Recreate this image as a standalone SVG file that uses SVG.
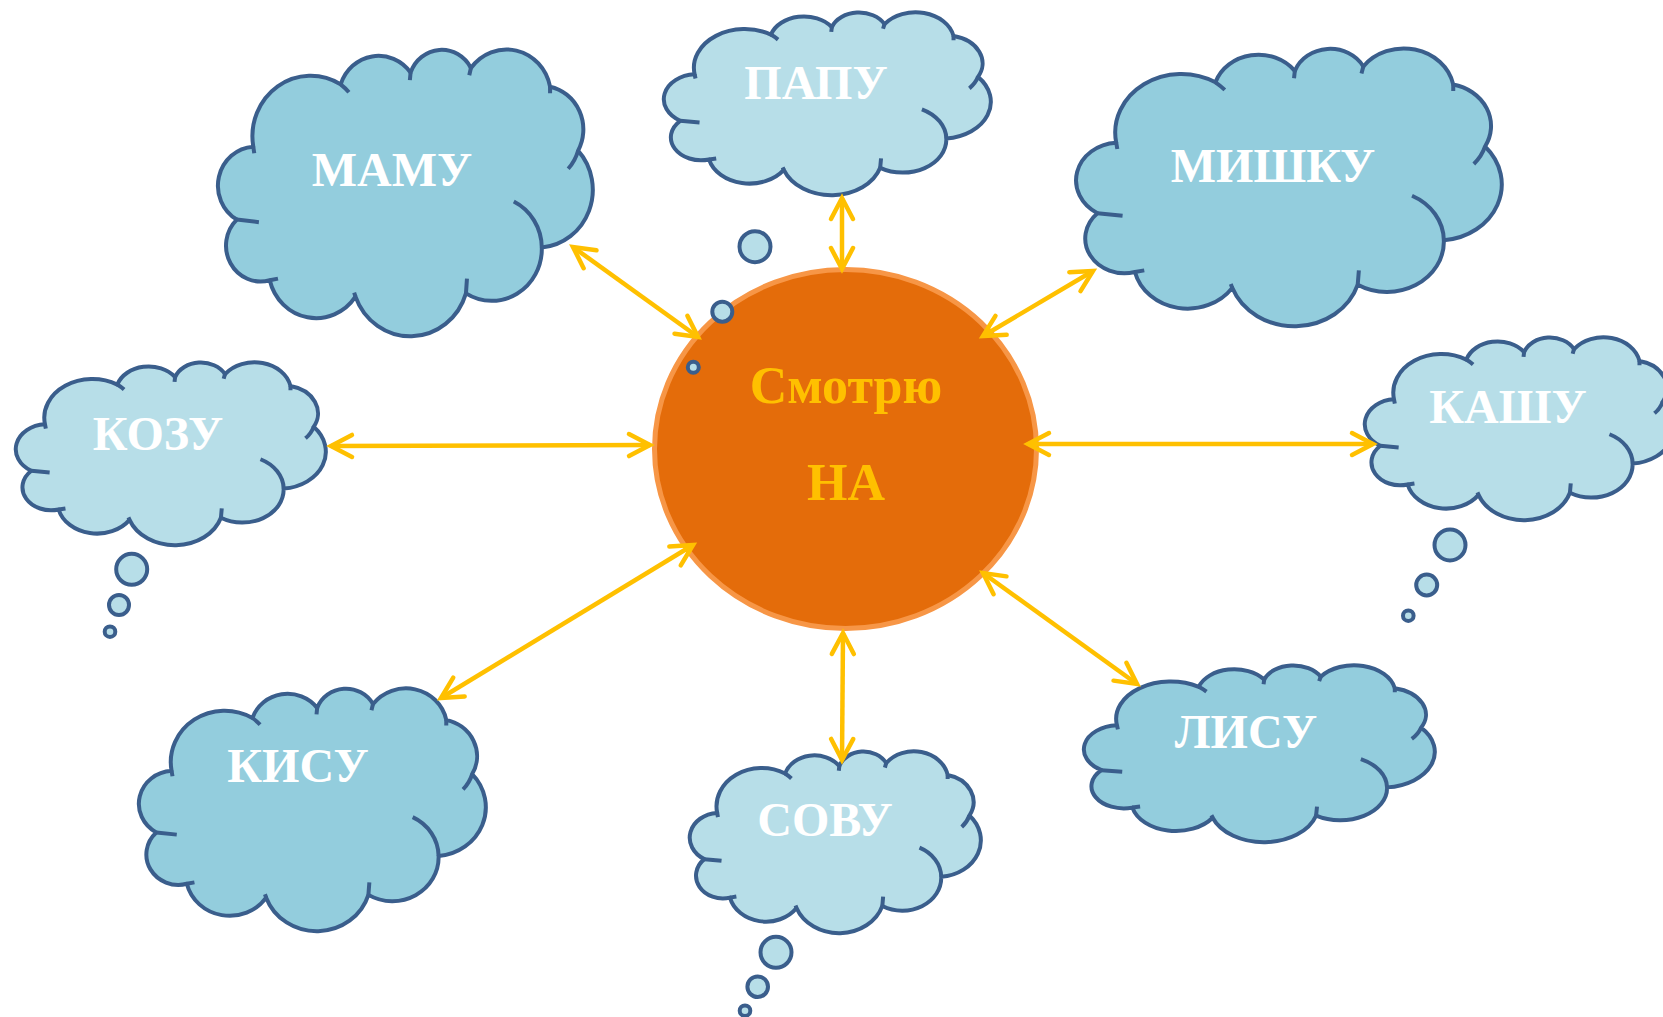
<svg xmlns="http://www.w3.org/2000/svg" xmlns:xlink="http://www.w3.org/1999/xlink" width="1663" height="1017" viewBox="0 0 1663 1017">
<style>
.outline{vector-effect:non-scaling-stroke;stroke:#3A5E8C;stroke-width:4;stroke-linejoin:round}
.tails{vector-effect:non-scaling-stroke;stroke:#3A5E8C;stroke-width:4;fill:none;stroke-linecap:butt}
.dark{fill:#93CDDD}
.light{fill:#B7DEE8}
.bub{fill:#B7DEE8;stroke:#3A5E8C;stroke-width:4}
.lbl{font-family:"Liberation Serif","Times New Roman",serif;font-weight:bold;font-size:48px;fill:#FFFFFF;text-anchor:middle}
.ctr{font-family:"Liberation Serif","Times New Roman",serif;font-weight:bold;font-size:52px;fill:#FFC000;text-anchor:middle}
.con{stroke:#FFC000;stroke-width:4.5;fill:none;stroke-linecap:butt;marker-start:url(#ah);marker-end:url(#ah)}
</style>
<defs>
<path id="cloudOutline" class="outline" d="M96.5,250.3 A155,155 0 0 1 328.9,90.7 A106,106 0 0 1 514.8,60.5 A88,88 0 0 1 675.3,48.7 A118,118 0 0 1 885.8,96.6 A112,112 0 0 1 960.3,260.4 A148,148 0 0 1 863.8,508.2 A133,133 0 0 1 662.1,625.8 A155,155 0 0 1 368.3,634.2 A127,127 0 0 1 140.3,592.2 A92,92 0 0 1 52.6,436.8 A100,100 0 0 1 96.5,250.3 Z"/>
<path id="cloudTails" class="tails" d="M328.9,90.7 A155,155 0 0 1 350.8,110.9 M513,79.8 L514.8,60.5 M670.9,67.2 L675.3,48.7 M885.8,96.6 L885.8,113.4 M960.3,260.4 A115,115 0 0 1 934,306.6 M789.3,390.6 A133,133 0 0 1 863.8,508.2 M662.1,625.8 L664.8,588 M368.3,634.2 L364.8,624 M140.3,592.2 L162.2,588 M52.6,436.8 L111.4,443.5 M96.5,250.3 L99.1,267.1"/>
<marker id="ah" markerUnits="userSpaceOnUse" orient="auto-start-reverse" refX="0" refY="0" markerWidth="40" markerHeight="40" viewBox="-30 -20 40 40" overflow="visible">
<path d="M-21,-11 L0,0 L-21,11" fill="none" stroke="#FFC000" stroke-width="4.5" stroke-linecap="round" stroke-linejoin="miter"/>
</marker>
</defs>
<rect width="1663" height="1017" fill="#FFFFFF"/>

<g id="node-center">
<ellipse cx="845.5" cy="449" rx="191" ry="179.5" fill="#E46C0A" stroke="#F79646" stroke-width="5"/>
<text class="ctr" x="846" y="403">Смотрю</text>
<text class="ctr" x="846" y="500">НА</text>
</g>

<g id="node-mamu">
<g transform="translate(217,49) scale(0.376,0.3905)">
<use xlink:href="#cloudOutline" class="dark"/>
<use xlink:href="#cloudTails"/>
</g>
<text class="lbl" x="392" y="186">МАМУ</text>
</g>

<g id="node-papu">
<g transform="translate(663,12) scale(0.328,0.249)">
<use xlink:href="#cloudOutline" class="light"/>
<use xlink:href="#cloudTails"/>
</g>
<circle class="bub" cx="755" cy="246.7" r="15.5"/>
<circle class="bub" cx="722.3" cy="311.7" r="10"/>
<circle class="bub" cx="693.3" cy="367.3" r="5.5"/>
<text class="lbl" x="816" y="99">ПАПУ</text>
</g>

<g id="node-mishku">
<g transform="translate(1075,48) scale(0.427,0.3782)">
<use xlink:href="#cloudOutline" class="dark"/>
<use xlink:href="#cloudTails"/>
</g>
<text class="lbl" x="1273" y="182">МИШКУ</text>
</g>

<g id="node-kozu">
<g transform="translate(15,362) scale(0.311,0.249)">
<use xlink:href="#cloudOutline" class="light"/>
<use xlink:href="#cloudTails"/>
</g>
<circle class="bub" cx="131.7" cy="569.3" r="15.5"/>
<circle class="bub" cx="119" cy="605" r="10"/>
<circle class="bub" cx="110" cy="631.7" r="5.3"/>
<text class="lbl" x="158" y="450">КОЗУ</text>
</g>

<g id="node-kashu">
<g transform="translate(1364,337) scale(0.311,0.249)">
<use xlink:href="#cloudOutline" class="light"/>
<use xlink:href="#cloudTails"/>
</g>
<circle class="bub" cx="1450" cy="545" r="15.5"/>
<circle class="bub" cx="1426.7" cy="585" r="10.5"/>
<circle class="bub" cx="1408.3" cy="615.7" r="5.3"/>
<text class="lbl" x="1508" y="423">КАШУ</text>
</g>

<g id="node-kisu">
<g transform="translate(138,688) scale(0.348,0.3306)">
<use xlink:href="#cloudOutline" class="dark"/>
<use xlink:href="#cloudTails"/>
</g>
<text class="lbl" x="298" y="782">КИСУ</text>
</g>

<g id="node-sovu">
<g transform="translate(689,751) scale(0.292,0.2476)">
<use xlink:href="#cloudOutline" class="light"/>
<use xlink:href="#cloudTails"/>
</g>
<circle class="bub" cx="776" cy="952.3" r="15.5"/>
<circle class="bub" cx="757.7" cy="986.7" r="10.3"/>
<circle class="bub" cx="745" cy="1010.7" r="5.3"/>
<text class="lbl" x="825" y="836">СОВУ</text>
</g>

<g id="node-lisu">
<g transform="translate(1083,665) scale(0.352,0.2408)">
<use xlink:href="#cloudOutline" class="dark"/>
<use xlink:href="#cloudTails"/>
</g>
<text class="lbl" x="1246" y="748">ЛИСУ</text>
</g>

<g id="connectors">
<line class="con" x1="573" y1="247" x2="698" y2="337"/>
<line class="con" x1="842" y1="198" x2="842" y2="269"/>
<line class="con" x1="1093" y1="271" x2="983" y2="336"/>
<line class="con" x1="331" y1="446" x2="650" y2="445"/>
<line class="con" x1="1028" y1="444" x2="1373" y2="444"/>
<line class="con" x1="441" y1="698" x2="693" y2="545"/>
<line class="con" x1="843" y1="633" x2="842" y2="760"/>
<line class="con" x1="983" y1="573" x2="1137" y2="684"/>
</g>
</svg>
